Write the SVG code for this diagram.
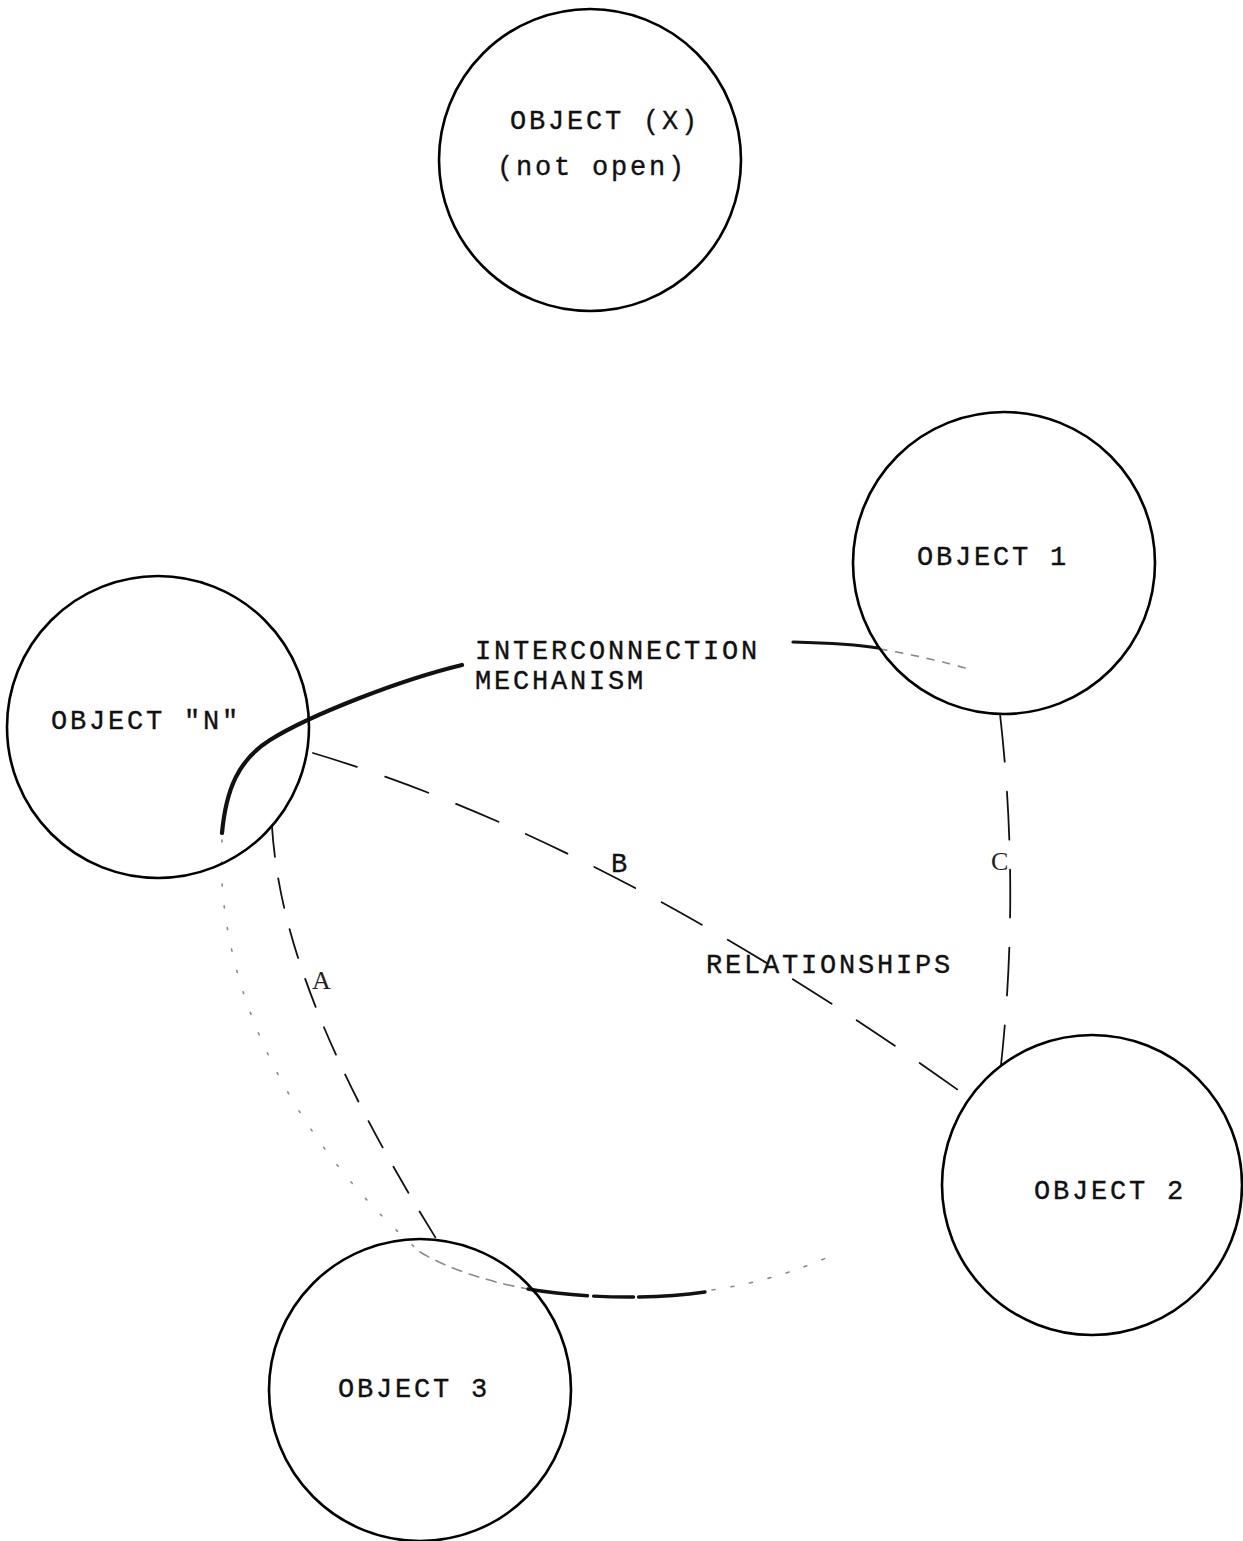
<svg xmlns="http://www.w3.org/2000/svg" width="1243" height="1541" viewBox="0 0 1243 1541">
  <style>
    .obj { fill: none; stroke: #000; stroke-width: 2.6; }
    .lbl { font-family: "Liberation Mono", "Courier New", monospace; font-size: 27px; letter-spacing: 2.8px; fill: #111; stroke: #111; stroke-width: 0.35; }
    .tag { font-family: "Liberation Serif", "Times New Roman", serif; font-size: 26px; fill: #222; }
    .rel { fill: none; stroke: #111; stroke-width: 1.8; stroke-linecap: round; }
    .mech { fill: none; stroke: #111; stroke-linecap: round; stroke-linejoin: round; }
    .faint { fill: none; stroke: #8a8a8a; stroke-width: 1.6; stroke-linecap: round; }
  </style>
  <rect width="1243" height="1541" fill="#fff"/>

  <!-- connectors: interconnection mechanism loop and A/B/C relationships -->
  <g id="connectors">
    <!-- interconnection mechanism, heavy stroke leaving object N -->
    <path class="mech" stroke-width="4.2" d="M222,833 C 226,790 238,760 270,740 C 310,715 400,680 462,665"/>
    <!-- continuation past the label into object 1 -->
    <path class="mech" stroke-width="3.2" d="M793,642 C 830,643 860,645 878,648"/>
    <path class="faint" stroke="#555" stroke-dasharray="7 9" d="M880,649 C 910,654 945,662 972,670"/>
    <!-- lower part of the loop, mostly faded -->
    <path class="faint" stroke-dasharray="2 20" d="M222,840 C 215,960 270,1120 420,1252"/>
    <path class="faint" stroke="#555" stroke-dasharray="10 8" d="M420,1252 C 450,1270 490,1282 528,1289"/>
    <path class="mech" stroke-width="3.4" stroke-dasharray="60 6 40 5 80" d="M528,1289 C 580,1298 650,1300 705,1292"/>
    <path class="faint" stroke-dasharray="3 16" d="M712,1290 C 760,1283 800,1270 835,1254"/>

    <!-- relationship A: object N to object 3 -->
    <path class="rel" stroke-dasharray="30 22" d="M272,827 C 277,900 300,1020 437,1240"/>
    <!-- relationship B: object N to object 2 -->
    <path class="rel" stroke-width="2" stroke-dasharray="46 30" d="M313,753 Q 616,844 965,1095"/>
    <!-- relationship C: object 1 to object 2 -->
    <path class="rel" stroke-width="1.6" stroke-dasharray="48 30" d="M1000,714 Q 1020,889 1001,1065"/>

    <text class="tag" x="312" y="989">A</text>
    <text class="lbl" x="611" y="872" font-size="30">B</text>
    <text class="tag" x="991" y="870" fill="#444">C</text>
    <text class="lbl" x="475" y="659">INTERCONNECTION</text>
    <text class="lbl" x="475" y="689">MECHANISM</text>
    <text class="lbl" x="706" y="973">RELATIONSHIPS</text>
  </g>

  <g id="object-x">
    <circle class="obj" cx="590" cy="160" r="151"/>
    <text class="lbl" x="510" y="129">OBJECT (X)</text>
    <text class="lbl" x="497" y="175">(not open)</text>
  </g>

  <g id="object-1">
    <circle class="obj" cx="1004" cy="563" r="151"/>
    <text class="lbl" x="917" y="565">OBJECT 1</text>
  </g>

  <g id="object-n">
    <circle class="obj" cx="158" cy="727" r="151"/>
    <text class="lbl" x="51" y="729">OBJECT "N"</text>
  </g>

  <g id="object-2">
    <circle class="obj" cx="1092" cy="1185" r="150"/>
    <text class="lbl" x="1034" y="1199">OBJECT 2</text>
  </g>

  <g id="object-3">
    <circle class="obj" cx="420" cy="1390" r="151"/>
    <text class="lbl" x="338" y="1397">OBJECT 3</text>
  </g>
</svg>
